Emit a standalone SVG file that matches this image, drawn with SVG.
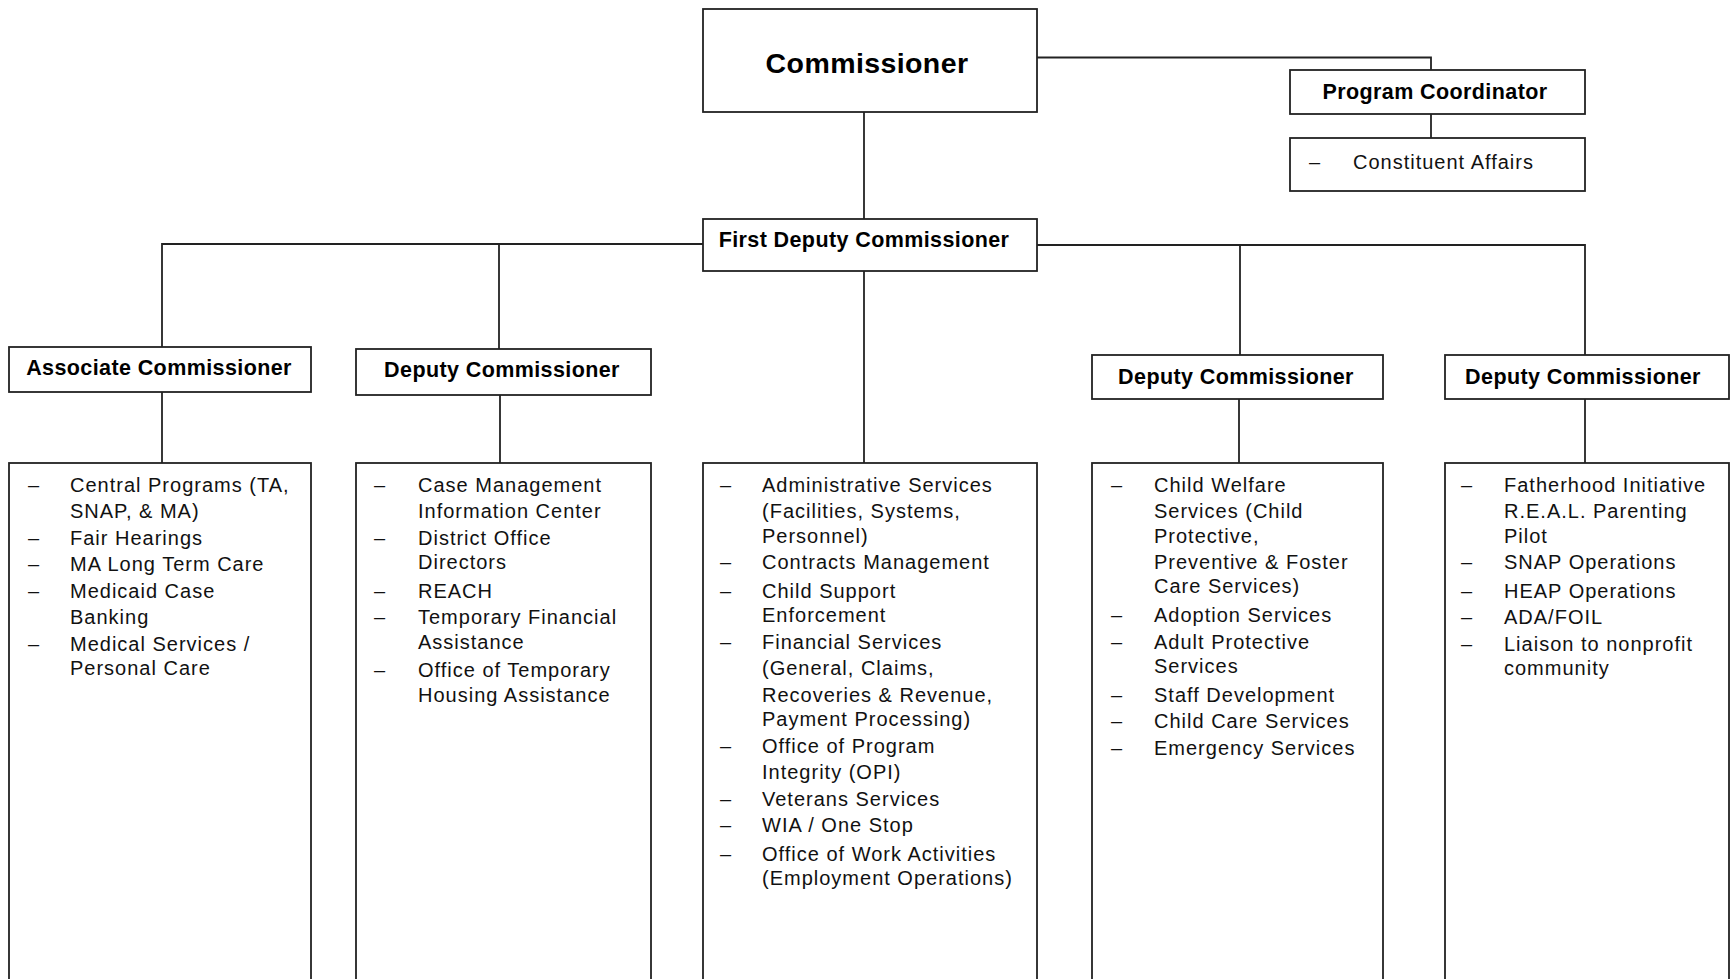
<svg xmlns="http://www.w3.org/2000/svg" width="1733" height="979" viewBox="0 0 1733 979">
<style>
.box{fill:#fff;stroke:#222;stroke-width:1.8}
.con{fill:none;stroke:#222;stroke-width:1.8}
.t{font-family:"Liberation Sans",Arial,sans-serif;font-weight:bold;fill:#000;text-anchor:middle;font-size:21.5px;letter-spacing:0.4px}
.l{font-family:"Liberation Sans",Arial,sans-serif;font-size:20px;letter-spacing:1px;fill:#111}
</style>
<rect width="1733" height="979" fill="#fff"/>
<g id="connectors">
<path class="con" d="M864 112V219"/>
<path class="con" d="M1037 57.5H1431V70"/>
<path class="con" d="M1431 114V138"/>
<path class="con" d="M703 244H162V347"/>
<path class="con" d="M499 244V349"/>
<path class="con" d="M1037 245H1585V355"/>
<path class="con" d="M1240 245V355"/>
<path class="con" d="M864 271V463"/>
<path class="con" d="M162 392V463"/>
<path class="con" d="M500 395V463"/>
<path class="con" d="M1239 399V463"/>
<path class="con" d="M1585 399V463"/>
</g>
<g id="commissioner"><rect class="box" x="703" y="9" width="334" height="103"/><text class="t" x="867" y="73" style="font-size:28.5px">Commissioner</text></g>
<g id="program-coordinator"><rect class="box" x="1290" y="70" width="295" height="44"/><text class="t" x="1435" y="99">Program Coordinator</text></g>
<g id="constituent"><rect class="box" x="1290" y="138" width="295" height="53"/><text class="l" x="1309" y="169">–</text><text class="l" x="1353" y="169">Constituent Affairs</text></g>
<g id="first-deputy"><rect class="box" x="703" y="219" width="334" height="52"/><text class="t" x="864" y="247">First Deputy Commissioner</text></g>
<g id="associate"><rect class="box" x="9" y="347" width="302" height="45"/><text class="t" x="159" y="375">Associate Commissioner</text></g>
<g id="deputy1"><rect class="box" x="356" y="349" width="295" height="46"/><text class="t" x="502" y="377">Deputy Commissioner</text></g>
<g id="deputy2"><rect class="box" x="1092" y="355" width="291" height="44"/><text class="t" x="1236" y="384">Deputy Commissioner</text></g>
<g id="deputy3"><rect class="box" x="1445" y="355" width="284" height="44"/><text class="t" x="1583" y="384">Deputy Commissioner</text></g>
<g id="list-associate"><rect class="box" x="9" y="463" width="302" height="540"/>
<text class="l" x="28" y="492">–</text><text class="l" x="70" y="492">Central Programs (TA,</text>
<text class="l" x="70" y="518">SNAP, &amp; MA)</text>
<text class="l" x="28" y="545">–</text><text class="l" x="70" y="545">Fair Hearings</text>
<text class="l" x="28" y="571">–</text><text class="l" x="70" y="571">MA Long Term Care</text>
<text class="l" x="28" y="598">–</text><text class="l" x="70" y="598">Medicaid Case</text>
<text class="l" x="70" y="624">Banking</text>
<text class="l" x="28" y="651">–</text><text class="l" x="70" y="651">Medical Services /</text>
<text class="l" x="70" y="675">Personal Care</text>
</g>
<g id="list-deputy1"><rect class="box" x="356" y="463" width="295" height="540"/>
<text class="l" x="374" y="492">–</text><text class="l" x="418" y="492">Case Management</text>
<text class="l" x="418" y="518">Information Center</text>
<text class="l" x="374" y="545">–</text><text class="l" x="418" y="545">District Office</text>
<text class="l" x="418" y="569">Directors</text>
<text class="l" x="374" y="598">–</text><text class="l" x="418" y="598">REACH</text>
<text class="l" x="374" y="624">–</text><text class="l" x="418" y="624">Temporary Financial</text>
<text class="l" x="418" y="649">Assistance</text>
<text class="l" x="374" y="677">–</text><text class="l" x="418" y="677">Office of Temporary</text>
<text class="l" x="418" y="702">Housing Assistance</text>
</g>
<g id="list-first-deputy"><rect class="box" x="703" y="463" width="334" height="540"/>
<text class="l" x="720" y="492">–</text><text class="l" x="762" y="492">Administrative Services</text>
<text class="l" x="762" y="518">(Facilities, Systems,</text>
<text class="l" x="762" y="543">Personnel)</text>
<text class="l" x="720" y="569">–</text><text class="l" x="762" y="569">Contracts Management</text>
<text class="l" x="720" y="598">–</text><text class="l" x="762" y="598">Child Support</text>
<text class="l" x="762" y="622">Enforcement</text>
<text class="l" x="720" y="649">–</text><text class="l" x="762" y="649">Financial Services</text>
<text class="l" x="762" y="675">(General, Claims,</text>
<text class="l" x="762" y="702">Recoveries &amp; Revenue,</text>
<text class="l" x="762" y="726">Payment Processing)</text>
<text class="l" x="720" y="753">–</text><text class="l" x="762" y="753">Office of Program</text>
<text class="l" x="762" y="779">Integrity (OPI)</text>
<text class="l" x="720" y="806">–</text><text class="l" x="762" y="806">Veterans Services</text>
<text class="l" x="720" y="832">–</text><text class="l" x="762" y="832">WIA / One Stop</text>
<text class="l" x="720" y="861">–</text><text class="l" x="762" y="861">Office of Work Activities</text>
<text class="l" x="762" y="885">(Employment Operations)</text>
</g>
<g id="list-deputy2"><rect class="box" x="1092" y="463" width="291" height="540"/>
<text class="l" x="1111" y="492">–</text><text class="l" x="1154" y="492">Child Welfare</text>
<text class="l" x="1154" y="518">Services (Child</text>
<text class="l" x="1154" y="543">Protective,</text>
<text class="l" x="1154" y="569">Preventive &amp; Foster</text>
<text class="l" x="1154" y="593">Care Services)</text>
<text class="l" x="1111" y="622">–</text><text class="l" x="1154" y="622">Adoption Services</text>
<text class="l" x="1111" y="649">–</text><text class="l" x="1154" y="649">Adult Protective</text>
<text class="l" x="1154" y="673">Services</text>
<text class="l" x="1111" y="702">–</text><text class="l" x="1154" y="702">Staff Development</text>
<text class="l" x="1111" y="728">–</text><text class="l" x="1154" y="728">Child Care Services</text>
<text class="l" x="1111" y="755">–</text><text class="l" x="1154" y="755">Emergency Services</text>
</g>
<g id="list-deputy3"><rect class="box" x="1445" y="463" width="284" height="540"/>
<text class="l" x="1461" y="492">–</text><text class="l" x="1504" y="492">Fatherhood Initiative</text>
<text class="l" x="1504" y="518">R.E.A.L. Parenting</text>
<text class="l" x="1504" y="543">Pilot</text>
<text class="l" x="1461" y="569">–</text><text class="l" x="1504" y="569">SNAP Operations</text>
<text class="l" x="1461" y="598">–</text><text class="l" x="1504" y="598">HEAP Operations</text>
<text class="l" x="1461" y="624">–</text><text class="l" x="1504" y="624">ADA/FOIL</text>
<text class="l" x="1461" y="651">–</text><text class="l" x="1504" y="651">Liaison to nonprofit</text>
<text class="l" x="1504" y="675">community</text>
</g>
</svg>
